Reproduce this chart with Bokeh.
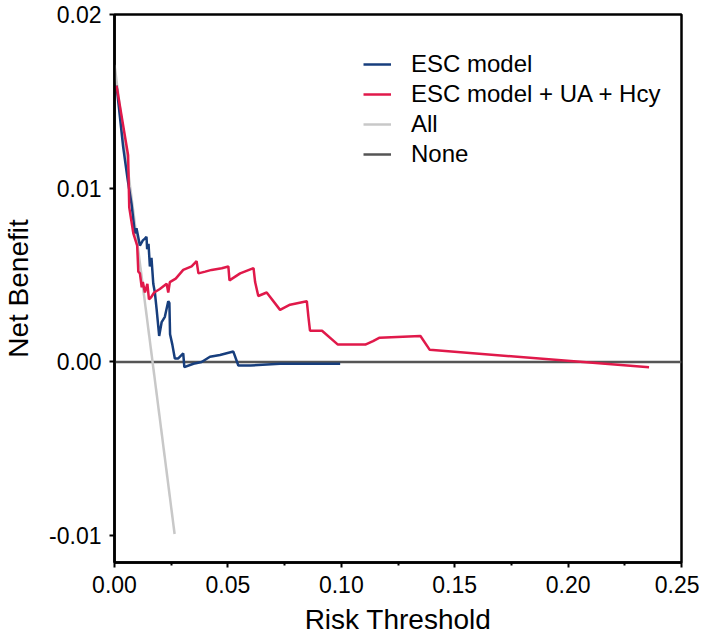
from bokeh.plotting import figure
from bokeh.models import Range1d, FixedTicker, NumeralTickFormatter, Legend, LegendItem
from bokeh.embed import file_html
from bokeh.resources import INLINE

# ---- data ----
thresh_esc = [0.0009, 0.0038, 0.0058, 0.0075, 0.0090, 0.0097, 0.0112, 0.0125, 0.0134,
              0.0141, 0.0144, 0.0150, 0.0156, 0.0163, 0.0171, 0.0178, 0.0186, 0.0197,
              0.0208, 0.0222, 0.0237, 0.0242, 0.0245, 0.0255, 0.0266, 0.0280, 0.0303,
              0.0308, 0.0348, 0.0384, 0.0421, 0.0465, 0.0524, 0.0546, 0.0600, 0.0730, 0.0995]
nb_esc = [0.0159, 0.0124, 0.0105, 0.0091, 0.0074, 0.0077, 0.0067, 0.0070, 0.0071,
          0.0072, 0.0065, 0.0068, 0.0055, 0.0060, 0.0045, 0.0040, 0.0030, 0.0015,
          0.0023, 0.0026, 0.0035, 0.0034, 0.0016, 0.0010, 0.0002, 0.0002, 0.0005,
          -0.0003, -0.0001, 0.0000, 0.0003, 0.0004, 0.0006, -0.0002, -0.0002, -0.0001, -0.0001]

thresh_full = [0.0009, 0.0060, 0.0065, 0.0083, 0.0100, 0.0105, 0.0112, 0.0120, 0.0125,
               0.0134, 0.0145, 0.0152, 0.0160, 0.0175, 0.0200, 0.0230, 0.0237, 0.0244,
               0.0270, 0.0303, 0.0340, 0.0362, 0.0370, 0.0400, 0.0428, 0.0473, 0.0502,
               0.0507, 0.0554, 0.0613, 0.0620, 0.0634, 0.0671, 0.0730, 0.0774, 0.0848,
               0.0855, 0.0862, 0.0915, 0.0985, 0.1106, 0.1140, 0.1169, 0.1349, 0.1390, 0.2357]
nb_full = [0.0159, 0.0119, 0.0089, 0.0074, 0.0067, 0.0052, 0.0051, 0.0043, 0.0046,
           0.0040, 0.0045, 0.0036, 0.0037, 0.0040, 0.0042, 0.0045, 0.0040, 0.0046,
           0.0048, 0.0053, 0.0055, 0.0058, 0.0051, 0.0052, 0.0053, 0.0054, 0.0055,
           0.0047, 0.0051, 0.0054, 0.0046, 0.0038, 0.0040, 0.0030, 0.0033, 0.0035,
           0.0026, 0.0018, 0.0018, 0.0010, 0.0010, 0.0012, 0.0014, 0.0015, 0.0007, -0.0003]

thresh_all = [0.0, 0.0265]
nb_all = [0.0171, -0.0099]

thresh_none = [0.0, 0.25]
nb_none = [0.0, 0.0]

x_ticks = [0.0, 0.05, 0.10, 0.15, 0.20, 0.25]
x_minor_ticks = [0.025, 0.075, 0.125, 0.175, 0.225]
y_ticks = [-0.01, 0.0, 0.01, 0.02]
series_labels = ["ESC model", "ESC model + UA + Hcy", "All", "None"]

FONT = "Liberation Sans"

p = figure(width=699, height=644, output_backend="svg", toolbar_location=None,
           x_range=Range1d(0, 0.25), y_range=Range1d(-0.01154, 0.02),
           min_border_left=113, min_border_top=14, min_border_right=18, min_border_bottom=82,
           background_fill_color="white", border_fill_color="white")

p.xgrid.visible = False
p.ygrid.visible = False
p.outline_line_color = "black"
p.outline_line_width = 2.5
p.outline_line_alpha = 1.0

r_none = p.line(thresh_none, nb_none, line_color="#555555", line_width=2.5)
r_all = p.line(thresh_all, nb_all, line_color="#C8C8C8", line_width=2.5)
r_esc = p.line(thresh_esc, nb_esc, line_color="#173E7D", line_width=2.5)
r_full = p.line(thresh_full, nb_full, line_color="#E0194A", line_width=2.5)

# axes
p.xaxis.ticker = FixedTicker(ticks=x_ticks, minor_ticks=x_minor_ticks)
p.yaxis.ticker = FixedTicker(ticks=y_ticks)
p.xaxis.formatter = NumeralTickFormatter(format="0.00")
p.yaxis.formatter = NumeralTickFormatter(format="0.00")
p.xaxis.axis_label = "Risk Threshold"
p.yaxis.axis_label = "Net Benefit"

for ax in (p.xaxis[0], p.yaxis[0]):
    ax.axis_line_color = "black"
    ax.axis_line_width = 2.5
    ax.major_tick_line_color = "black"
    ax.major_tick_line_width = 2
    ax.major_tick_in = 0
    ax.major_tick_out = 5
    ax.minor_tick_line_color = "black"
    ax.minor_tick_line_width = 2
    ax.minor_tick_in = 0
    ax.minor_tick_out = 3
    ax.major_label_text_font = FONT
    ax.major_label_text_font_size = "23px"
    ax.major_label_text_color = "black"
    ax.axis_label_text_font = FONT
    ax.axis_label_text_font_size = "28px"
    ax.axis_label_text_font_style = "normal"
    ax.axis_label_text_color = "black"

p.xaxis.major_label_standoff = 8
p.xaxis.axis_label_standoff = 8
p.yaxis.major_label_standoff = 8
p.yaxis.axis_label_standoff = 12
p.yaxis.minor_tick_out = 0

legend = Legend(items=[LegendItem(label=series_labels[0], renderers=[r_esc]),
                       LegendItem(label=series_labels[1], renderers=[r_full]),
                       LegendItem(label=series_labels[2], renderers=[r_all]),
                       LegendItem(label=series_labels[3], renderers=[r_none])],
                location=(249, 394))
legend.border_line_alpha = 0
legend.background_fill_alpha = 0
legend.padding = 0
legend.margin = 0
legend.spacing = 2
legend.glyph_width = 28
legend.glyph_height = 24
legend.label_height = 24
legend.label_standoff = 20
legend.label_text_font = FONT
legend.label_text_font_size = "24px"
legend.label_text_color = "black"
p.add_layout(legend, "center")

open("out.html", "w").write(file_html(p, INLINE))
